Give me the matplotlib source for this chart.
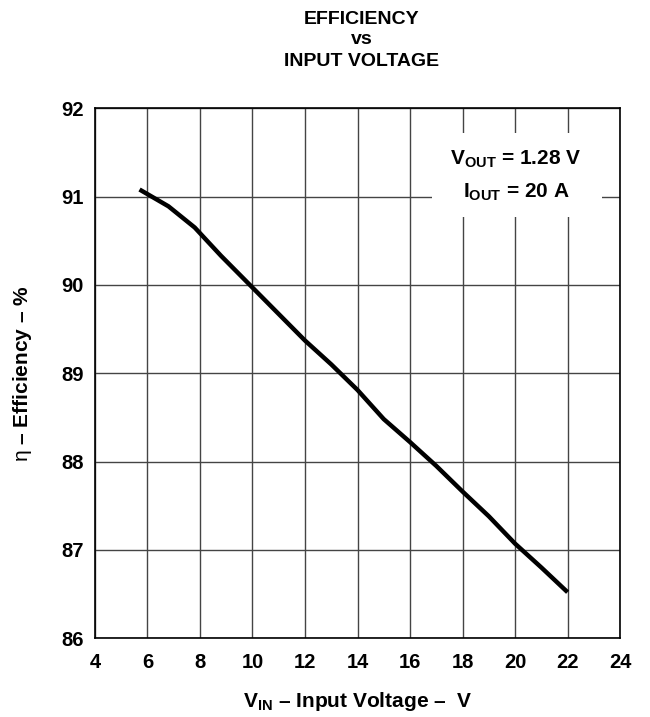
"""Efficiency vs input voltage curve (datasheet style)."""
import matplotlib
matplotlib.use("Agg")
import matplotlib.pyplot as plt
from matplotlib.patches import Rectangle

plt.rcParams["font.family"] = ["Liberation Sans", "DejaVu Sans"]
plt.rcParams["mathtext.fontset"] = "custom"
plt.rcParams["mathtext.rm"] = "Liberation Sans"
plt.rcParams["mathtext.bf"] = "Liberation Sans:bold"
plt.rcParams["mathtext.it"] = "Liberation Sans:italic"

# data
vin = [5.7, 6.8, 7.8, 8.8, 10, 11, 12, 13, 14, 15, 16, 17, 18, 19, 20, 21, 22]
eff = [91.08, 90.89, 90.65, 90.33, 89.97, 89.67, 89.37, 89.1, 88.81, 88.48,
       88.22, 87.95, 87.66, 87.38, 87.07, 86.8, 86.52]
xticks = list(range(4, 25, 2))
yticks = list(range(86, 93))

fig = plt.figure(figsize=(6.5, 7.17), dpi=100)
ax = fig.add_axes([0.146, 0.110, 0.808, 0.739])

ax.plot(vin, eff, color="black", lw=3.2, solid_capstyle="butt", zorder=3)

ax.set_xlim(4, 24)
ax.set_ylim(86, 92)
ax.set_xticks(xticks)
ax.set_yticks(yticks)
ax.tick_params(length=0, labelsize=14.5)
ax.tick_params(axis="x", pad=11)
ax.tick_params(axis="y", pad=8)
for lab in ax.get_xticklabels() + ax.get_yticklabels():
    lab.set_fontweight("bold")

ax.grid(True, color="#444444", lw=1.0)
for s in ax.spines.values():
    s.set_linewidth(1.2)
    s.set_color("black")

ax.set_xlabel(r"$\mathbf{V_{IN}}$ – Input Voltage –  V", fontsize=15,
              fontweight="bold")
ax.xaxis.set_label_coords(0.5, -0.097)
ax.set_ylabel(r"$\mathrm{\eta}$ – Efficiency – %", fontsize=15,
              fontweight="bold")
ax.yaxis.set_label_coords(-0.116, 0.5)

# white patch over the grid behind the conditions text
ax.add_patch(Rectangle((0.642, 0.794), 0.324, 0.159, transform=ax.transAxes,
                       facecolor="white", edgecolor="none", zorder=2.5))
ax.text(0.802, 0.904, r"$\mathbf{V_{OUT}}$ = 1.28 V", transform=ax.transAxes,
        ha="center", va="center", fontsize=15, fontweight="bold", zorder=4)
ax.text(0.802, 0.842, r"$\mathbf{I_{OUT}}$ = 20 A", transform=ax.transAxes,
        ha="center", va="center", fontsize=15, fontweight="bold", zorder=4)

fig.text(0.557, 0.973, "EFFICIENCY", ha="center", va="center",
         fontsize=14, fontweight="bold")
fig.text(0.557, 0.945, "vs", ha="center", va="center",
         fontsize=14, fontweight="bold")
fig.text(0.557, 0.914, "INPUT VOLTAGE", ha="center", va="center",
         fontsize=14, fontweight="bold")

fig.savefig("out.png", dpi=100, facecolor="white")
